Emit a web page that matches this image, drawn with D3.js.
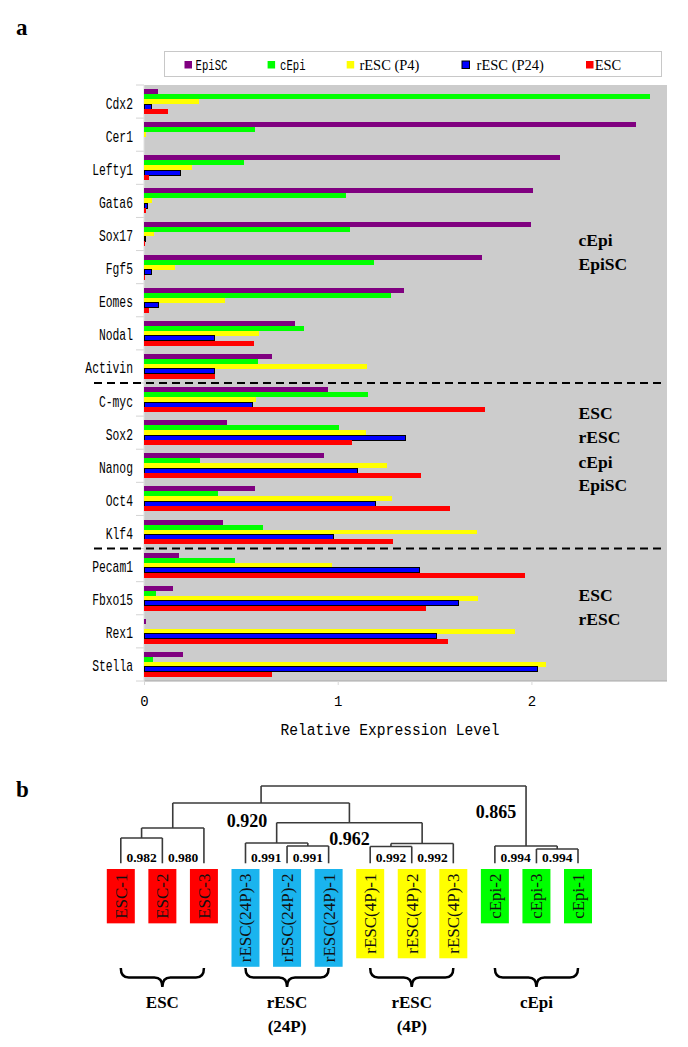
<!DOCTYPE html>
<html>
<head>
<meta charset="utf-8">
<script src="https://cdn.jsdelivr.net/npm/d3@7"></script>
<style>
  html, body { margin: 0; padding: 0; background: #fff; }
  svg { display: block; }
</style>
</head>
<body>
<svg id="chart" width="688" height="1047"></svg>
<script>
// ---------------- DATA ----------------
const genes = ["Cdx2","Cer1","Lefty1","Gata6","Sox17","Fgf5","Eomes","Nodal","Activin",
               "C-myc","Sox2","Nanog","Oct4","Klf4","Pecam1","Fbxo15","Rex1","Stella"];
const seriesNames = ["EpiSC","cEpi","rESC (P4)","rESC (P24)","ESC"];
const episc  = [0.07, 2.54, 2.15, 2.01, 2.00, 1.746, 1.343, 0.781, 0.663, 0.949, 0.429, 0.929, 0.575, 0.409, 0.179, 0.15, 0.012, 0.199];
const cepi   = [2.614, 0.574, 0.515, 1.043, 1.065, 1.187, 1.276, 0.827, 0.589, 1.157, 1.008, 0.289, 0.384, 0.616, 0.47, 0.063, 0.0, 0.049];
const resc4  = [0.283, 0.012, 0.25, 0.041, 0.051, 0.159, 0.417, 0.593, 1.152, 0.577, 1.146, 1.254, 1.28, 1.719, 0.97, 1.724, 1.915, 2.075];
const resc24 = [0.038, 0.0, 0.19, 0.018, 0.01, 0.037, 0.077, 0.366, 0.366, 0.559, 1.352, 1.104, 1.193, 0.978, 1.423, 1.622, 1.512, 2.031];
const esc    = [0.124, 0.0, 0.028, 0.012, 0.004, 0.006, 0.026, 0.569, 0.366, 1.762, 1.073, 1.431, 1.581, 1.283, 1.969, 1.455, 1.569, 0.661];
const xTicks = [0, 1, 2];
const xMax = 2.7;
const xTitle = "Relative Expression Level";
const dividerAfter = [8, 13];           // dashed lines after these gene indices
const annoBlocks = [["cEpi","EpiSC"], ["ESC","rESC","cEpi","EpiSC"], ["ESC","rESC"]];

// panel b
const leaves = ["ESC-1","ESC-2","ESC-3","rESC(24P)-3","rESC(24P)-2","rESC(24P)-1",
                "rESC(4P)-1","rESC(4P)-2","rESC(4P)-3","cEpi-2","cEpi-3","cEpi-1"];
const leafGroup = [0,0,0,1,1,1,2,2,2,3,3,3];
const groupLabels = [["ESC"],["rESC","(24P)"],["rESC","(4P)"],["cEpi"]];
const corrLevels = [0.865, 0.920, 0.962, 0.980, 0.982, 0.991, 0.992, 0.994];
const tree = {r:0.865, c:[
  {r:0.920, c:[
    {r:0.980, c:[{r:0.982, c:[0,1]}, 2]},
    {r:0.962, c:[
      {r:0.991, c:[3, {r:0.991, c:[4,5]}]},
      {r:0.992, c:[{r:0.992, c:[6,7]}, 8]}
    ]}
  ]},
  {r:0.994, c:[9, {r:0.994, c:[10,11]}]}
]};

// ---------------- STYLE ----------------
const seriesColors = ["#800080","#00ff00","#ffff00","#0000ff","#ff0000"];
const groupColors = ["#ff0000","#1ab4ee","#ffff00","#00ff00"];
const MONO = "'Liberation Mono', 'DejaVu Sans Mono', monospace";
const SERIF = "'Liberation Serif', 'Times New Roman', serif";

const svg = d3.select("#chart");
const seriesVals = [episc, cepi, resc4, resc24, esc];

// helper for narrow mono text (SimSun-like)
function monoText(g, x, y, txt, size, sx, anchor) {
  return g.append("text")
    .attr("transform", `translate(${x},${y}) scale(${sx},1)`)
    .attr("text-anchor", anchor || "start")
    .style("font-family", MONO).style("font-size", size + "px")
    .attr("fill", "#000").text(txt);
}

// ---------------- PANEL A ----------------
const plotL = 144, plotR = 667, plotT = 85, plotB = 681;
const x = d3.scaleLinear().domain([0, xMax]).range([plotL, plotR]);
const y = d3.scaleBand().domain(genes).range([plotT, plotB]).paddingInner(0.245).paddingOuter(0.1225);
const ys = d3.scaleBand().domain(seriesNames).range([0, y.bandwidth()]);

svg.append("text").attr("x", 16).attr("y", 35)
  .style("font-family", SERIF).style("font-weight", "bold").style("font-size", "23px").text("a");

// plot background
svg.append("rect").attr("x", plotL).attr("y", plotT)
  .attr("width", plotR - plotL).attr("height", plotB - plotT).attr("fill", "#cccccc");
svg.append("line").attr("x1", plotL).attr("x2", plotR).attr("y1", plotB).attr("y2", plotB)
  .attr("stroke", "#a8a8a8").attr("stroke-width", 1);

// category boundary ticks
const step = y.step();
const boundaryY = i => y(genes[0]) - y.paddingOuter() * step + i * step;
svg.append("g").selectAll("line").data(d3.range(genes.length + 1)).join("line")
  .attr("x1", plotL - 8).attr("x2", plotL)
  .attr("y1", i => boundaryY(i)).attr("y2", i => boundaryY(i))
  .attr("stroke", "#d4d4d4").attr("stroke-width", 1);
svg.append("line").attr("x1", plotL).attr("x2", plotL).attr("y1", plotT).attr("y2", plotB)
  .attr("stroke", "#e0e0e0").attr("stroke-width", 1);

// bars
const barG = svg.append("g");
seriesNames.forEach((s, si) => {
  barG.append("g").selectAll("rect").data(seriesVals[si]).join("rect")
    .attr("x", x(0))
    .attr("y", (d, i) => y(genes[i]) + ys(s))
    .attr("width", d => Math.max(0, x(d) - x(0)))
    .attr("height", ys.bandwidth())
    .attr("fill", seriesColors[si])
    .attr("stroke", si === 3 ? "#000" : "none")
    .attr("stroke-width", si === 3 ? 1 : 0)
    .attr("shape-rendering", "crispEdges");
});

// dashed dividers
svg.append("g").selectAll("line").data(dividerAfter).join("line")
  .attr("x1", 94).attr("x2", 665)
  .attr("y1", d => boundaryY(d + 1)).attr("y2", d => boundaryY(d + 1))
  .attr("stroke", "#000").attr("stroke-width", 2).attr("stroke-dasharray", "8,5");

// y labels (axis)
const yAxisG = svg.append("g").attr("transform", `translate(${plotL},0)`)
  .call(d3.axisLeft(y).tickSize(0).tickPadding(11));
yAxisG.select(".domain").remove();
yAxisG.selectAll("text")
  .attr("x", null).attr("dy", null)
  .attr("transform", "translate(-11,7) scale(0.71,1)")
  .style("font-family", MONO).style("font-size", "16px").attr("fill", "#000");

// x axis
const xAxisG = svg.append("g").attr("transform", `translate(0,${plotB})`)
  .call(d3.axisBottom(x).tickValues(xTicks).tickFormat(d3.format("d")).tickSize(4).tickPadding(11));
xAxisG.select(".domain").remove();
xAxisG.selectAll(".tick line").attr("stroke", "#d8d8d8");
xAxisG.selectAll("text").style("font-family", MONO).style("font-size", "14px").attr("fill", "#000");

monoText(svg, 390, 735, xTitle, 17, 0.86, "middle");

// annotations
const annoBaselines = [[246, 270], [419, 443, 468, 491], [600.5, 624.5]];
annoBlocks.forEach((blk, bi) => {
  blk.forEach((t, ti) => {
    svg.append("text").attr("x", 578.5).attr("y", annoBaselines[bi][ti])
      .style("font-family", SERIF).style("font-weight", "bold").style("font-size", "17.5px")
      .attr("fill", "#000").text(t);
  });
});

// legend
svg.append("rect").attr("x", 164.5).attr("y", 51.5).attr("width", 497).attr("height", 25)
  .attr("fill", "#fff").attr("stroke", "#c8c8c8").attr("stroke-width", 1);
const legendX = [184.5, 267.6, 346.7, 462, 586];
const legendTextGap = [11, 12.5, 12.7, 14.6, 8.7];
seriesNames.forEach((s, si) => {
  svg.append("rect").attr("x", legendX[si]).attr("y", 61).attr("width", 7.5).attr("height", 7.5)
    .attr("fill", seriesColors[si])
    .attr("stroke", si === 3 ? "#000" : "none").attr("stroke-width", si === 3 ? 1 : 0);
  const tx = legendX[si] + legendTextGap[si];
  if (si < 2) {
    monoText(svg, tx, 70, s, 14, 0.76, "start");
  } else {
    svg.append("text").attr("x", tx).attr("y", 70)
      .style("font-family", SERIF).style("font-size", "14.5px").attr("fill", "#000").text(s);
  }
});

// ---------------- PANEL B ----------------
svg.append("text").attr("x", 16).attr("y", 797)
  .style("font-family", SERIF).style("font-weight", "bold").style("font-size", "23px").text("b");

const xl = d3.scalePoint().domain(leaves).range([120.8, 578]);
const yd = d3.scaleLinear().domain(corrLevels).range([786, 803, 822.7, 828, 838, 843, 843.5, 846]);
const leafBottom = 863.3;

const root = d3.hierarchy(tree, d => (typeof d === "object" ? d.c : null));
// x positions (post-order)
root.eachAfter(n => {
  if (!n.children) n.px = xl(leaves[n.data]);
  else n.px = (n.children[0].px + n.children[n.children.length - 1].px) / 2;
});
// y positions (pre-order)
root.eachBefore(n => {
  if (!n.children) n.py = leafBottom;
  else {
    const base = yd(n.data.r);
    n.py = n.parent ? Math.max(base, n.parent.py + 3) : base;
  }
});
const dG = svg.append("g").attr("stroke", "#3a3a3a").attr("stroke-width", 1.6).attr("fill", "none");
root.each(n => {
  if (!n.children) return;
  dG.append("line").attr("x1", n.children[0].px).attr("x2", n.children[n.children.length - 1].px)
    .attr("y1", n.py).attr("y2", n.py);
  n.children.forEach(c => {
    dG.append("line").attr("x1", c.px).attr("x2", c.px).attr("y1", n.py).attr("y2", c.py);
  });
});

const fmt = d3.format(".3f");
// big labels
const topNode = root;
const escRescNode = root.children[0];
const rescNode = escRescNode.children[1];
function bigLabel(xx, yy, v) {
  svg.append("text").attr("x", xx).attr("y", yy).attr("text-anchor", "middle")
    .style("font-family", SERIF).style("font-weight", "bold").style("font-size", "18px")
    .attr("fill", "#000").text(fmt(v));
}
bigLabel(topNode.children[1].px - 30, 818, topNode.data.r);
bigLabel(escRescNode.px - 14, 826.5, escRescNode.data.r);
bigLabel(rescNode.px, 844.5, rescNode.data.r);

// small labels between adjacent leaves of a group (value of their common ancestor)
const leafNodes = root.leaves().sort((a, b) => a.data - b.data);
function lca(a, b) {
  const anc = new Set(a.ancestors());
  return b.ancestors().find(n => anc.has(n));
}
for (let i = 0; i < leaves.length - 1; i++) {
  if (leafGroup[i] !== leafGroup[i + 1]) continue;
  const n = lca(leafNodes[i], leafNodes[i + 1]);
  svg.append("text").attr("x", (leafNodes[i].px + leafNodes[i + 1].px) / 2).attr("y", 862)
    .attr("text-anchor", "middle")
    .style("font-family", SERIF).style("font-weight", "bold").style("font-size", "13.5px")
    .attr("fill", "#000").text(fmt(n.data.r));
}

// leaf boxes
const boxTop = 869, boxW = 28;
leaves.forEach((lf, i) => {
  const cx = xl(lf);
  const g = svg.append("g");
  const rect = g.append("rect").attr("x", cx - boxW / 2).attr("y", boxTop).attr("width", boxW)
    .attr("fill", groupColors[leafGroup[i]]);
  const t = g.append("text").attr("text-anchor", "middle").attr("dy", "0.35em")
    .style("font-family", SERIF).style("font-size", "17px").attr("fill", "#111").text(lf);
  const len = t.node().getComputedTextLength();
  const h = len + 9;
  rect.attr("height", h);
  t.attr("transform", `translate(${cx},${boxTop + h / 2}) rotate(-90)`);
});

// braces + group labels
groupLabels.forEach((lines, gi) => {
  const idx = d3.range(leaves.length).filter(i => leafGroup[i] === gi);
  const x1 = xl(leaves[idx[0]]), x2 = xl(leaves[idx[idx.length - 1]]);
  const xm = (x1 + x2) / 2;
  const y0 = 968, y1 = 977.5, y2 = 987, r = 8;
  const p = d3.path();
  p.moveTo(x1, y0);
  p.quadraticCurveTo(x1, y1, x1 + r, y1);
  p.lineTo(xm - r, y1);
  p.quadraticCurveTo(xm, y1, xm, y2);
  p.quadraticCurveTo(xm, y1, xm + r, y1);
  p.lineTo(x2 - r, y1);
  p.quadraticCurveTo(x2, y1, x2, y0);
  svg.append("path").attr("d", p.toString()).attr("fill", "none")
    .attr("stroke", "#000").attr("stroke-width", 2.5);
  lines.forEach((ln, li) => {
    svg.append("text").attr("x", xm).attr("y", 1007.5 + li * 24).attr("text-anchor", "middle")
      .style("font-family", SERIF).style("font-weight", "bold").style("font-size", "17px")
      .attr("fill", "#000").text(ln);
  });
});
</script>
</body>
</html>
